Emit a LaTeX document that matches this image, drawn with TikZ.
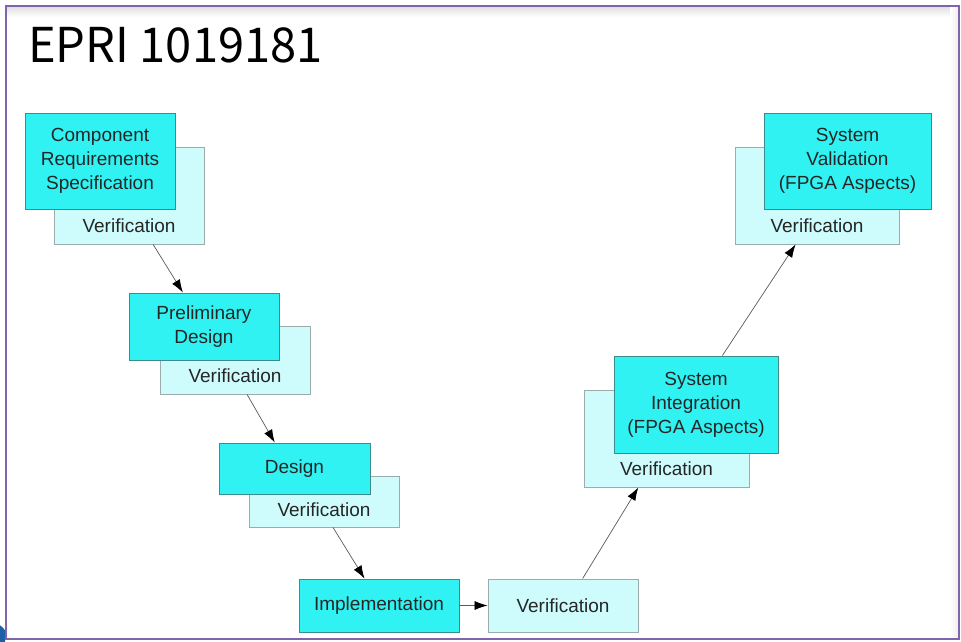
\documentclass[tikz,border=0pt]{standalone}
\usepackage{fontspec}
\setmainfont{Liberation Sans}
\newfontfamily\titlefont{Noto Sans CJK KR}
\usetikzlibrary{arrows.meta,calc}

\definecolor{framepurple}{RGB}{128,100,172}
\definecolor{stagefill}{RGB}{48,242,242}
\definecolor{stageedge}{RGB}{60,140,140}
\definecolor{checkfill}{RGB}{206,252,252}
\definecolor{checkedge}{RGB}{155,172,172}
\definecolor{flowline}{RGB}{90,90,90}
\definecolor{iconblue}{RGB}{30,95,165}

\tikzset{
  stagebox/.style={draw=stageedge, line width=0.9pt, fill=stagefill, inner sep=0pt,
    align=center, font=\fontsize{19}{24}\selectfont, text=black!85},
  checkbox/.style={draw=checkedge, line width=0.9pt, fill=checkfill, inner sep=0pt},
  checklabel/.style={font=\fontsize{19}{24}\selectfont, text=black!85, inner sep=0pt},
  flow/.style={draw=flowline, line width=0.7pt, -{Latex[length=13pt,width=9pt,color=black]}},
}

\begin{document}
\begin{tikzpicture}[x=1pt,y=-1pt]
  \useasboundingbox (0,0) rectangle (961,641);
  \fill[white] (0,0) rectangle (961,641);

  % slide frame with a faint inner shadow
  \shade[top color=black!12, bottom color=white] (7,7) rectangle (958,17);
  \shade[left color=white, right color=black!6] (950,7) rectangle (958,638);
  \draw[framepurple, line width=2pt] (6,6) rectangle (959,639);

  % partly hidden round icon in the lower left corner
  \begin{scope}
    \clip (0,0) rectangle (5,641);
    \fill[iconblue] (-8,638) circle (15);
  \end{scope}

  % title
  \node[anchor=base west, inner sep=0pt] (title) at (28,62)
    {\scalebox{0.98}[1]{\titlefont\fontsize{48}{58}\selectfont EPRI 1019181}};

  % verification boxes (behind the stages)
  \node[checkbox, minimum width=150pt, minimum height=97pt] (crsV) at (129,195.5) {};
  \node[checkbox, minimum width=150pt, minimum height=68pt] (pdV)  at (235,360) {};
  \node[checkbox, minimum width=150pt, minimum height=51pt] (dV)   at (324,501.5) {};
  \node[checkbox, minimum width=165pt, minimum height=97pt] (siV)  at (666.5,438.5) {};
  \node[checkbox, minimum width=164pt, minimum height=97pt] (svV)  at (817,195.5) {};

  % stages of the V
  \node[stagebox, minimum width=150pt, minimum height=96pt] (crs) at (100,161)
    {Component\\Requirements\\Specification};
  \node[stagebox, minimum width=150pt, minimum height=67pt] (pd) at (204,326.5)
    {Preliminary\\Design};
  \node[stagebox, minimum width=151pt, minimum height=51pt] (des) at (294.5,468.5)
    {Design};
  \node[stagebox, minimum width=160pt, minimum height=53pt] (impl) at (379,605.5)
    {Implementation};
  \node[checkbox, minimum width=150pt, minimum height=53pt] (implV) at (563,605.5) {};
  \node[stagebox, minimum width=164pt, minimum height=97pt] (si) at (696,404.5)
    {System\\Integration\\(FPGA Aspects)};
  \node[stagebox, minimum width=167pt, minimum height=96pt] (sv) at (847.5,161)
    {System\\Validation\\(FPGA Aspects)};

  % verification labels
  \node[checklabel] (crsVt)  at (129,226) {Verification};
  \node[checklabel] (pdVt)   at (235,376) {Verification};
  \node[checklabel] (dVt)    at (324,510) {Verification};
  \node[checklabel] (implVt) at (563,606) {Verification};
  \node[checklabel] (siVt)   at (666.5,469) {Verification};
  \node[checklabel] (svVt)   at (817,226) {Verification};

  % flow between the stages
  \draw[flow] ($(crsV.south west)!0.66!(crsV.south east)$) -- ($(pd.north west)!0.36!(pd.north east)$);
  \draw[flow] ($(pdV.south west)!0.58!(pdV.south east)$) -- ($(des.north west)!0.37!(des.north east)$);
  \draw[flow] ($(dV.south west)!0.56!(dV.south east)$) -- ($(impl.north west)!0.41!(impl.north east)$);
  \draw[flow] (impl.east) -- (implV.west);
  \draw[flow] ($(implV.north west)!0.63!(implV.north east)$) -- ($(siV.south west)!0.33!(siV.south east)$);
  \draw[flow] ($(si.north west)!0.66!(si.north east)$) -- ($(svV.south west)!0.37!(svV.south east)$);
\end{tikzpicture}
\end{document}
